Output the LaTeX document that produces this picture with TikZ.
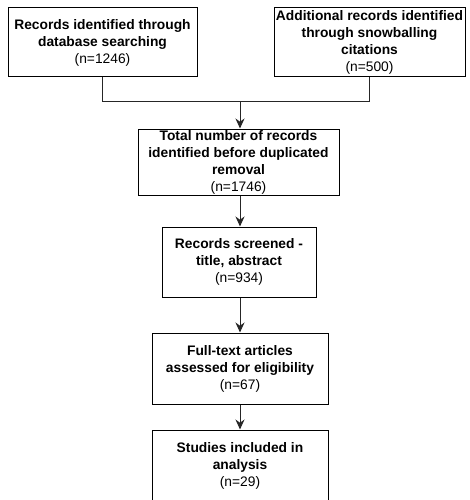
\documentclass[tikz,border=0pt]{standalone}
\usepackage{fontspec}
\setmainfont{Liberation Sans}
\usetikzlibrary{arrows.meta}
\begin{document}
\begin{tikzpicture}[x=1pt,y=-1pt,
  boxnode/.style={draw=black,line width=1pt,fill=white,align=center,inner sep=0pt,
    font=\fontsize{13.8}{17}\selectfont},
  link/.style={draw=black!85,line width=1pt},
  arr/.style={link,-{Stealth[length=10pt,width=9pt]}}]
\useasboundingbox (0,0) rectangle (470,500);
\clip (0,0) rectangle (470,500);
\node[boxnode,minimum width=189pt,minimum height=69pt] (b1) at (102.5,42.5)
  {\textbf{Records identified through}\\\textbf{database searching}\\(n=1246)};
\node[boxnode,minimum width=191pt,minimum height=69pt] (b2) at (369.5,42.5)
  {\textbf{Additional records identified}\\\textbf{through snowballing}\\\textbf{citations}\\(n=500)};
\node[boxnode,minimum width=201pt,minimum height=66pt] (b3) at (238.5,162)
  {\textbf{Total number of records}\\\textbf{identified before duplicated}\\\textbf{removal}\\(n=1746)};
\node[boxnode,minimum width=154pt,minimum height=70pt] (b4) at (239,262)
  {\textbf{Records screened -}\\\textbf{title, abstract}\\(n=934)};
\node[boxnode,minimum width=176pt,minimum height=71pt] (b5) at (240,368.5)
  {\textbf{Full-text articles}\\\textbf{assessed for eligibility}\\(n=67)};
\node[boxnode,minimum width=176pt,minimum height=72pt] (b6) at (240,466)
  {\textbf{Studies included in}\\\textbf{analysis}\\(n=29)};
\coordinate (j) at (240,102);
\draw[link] (b1.south) -- (b1.south |- j) -- (b2.south |- j) -- (b2.south);
\draw[arr] (j) -- (j |- b3.north);
\draw[arr] (b3.south -| j) -- (j |- b4.north);
\draw[arr] (b4.south -| j) -- (j |- b5.north);
\draw[arr] (b5.south -| j) -- (j |- b6.north);
\end{tikzpicture}
\end{document}
